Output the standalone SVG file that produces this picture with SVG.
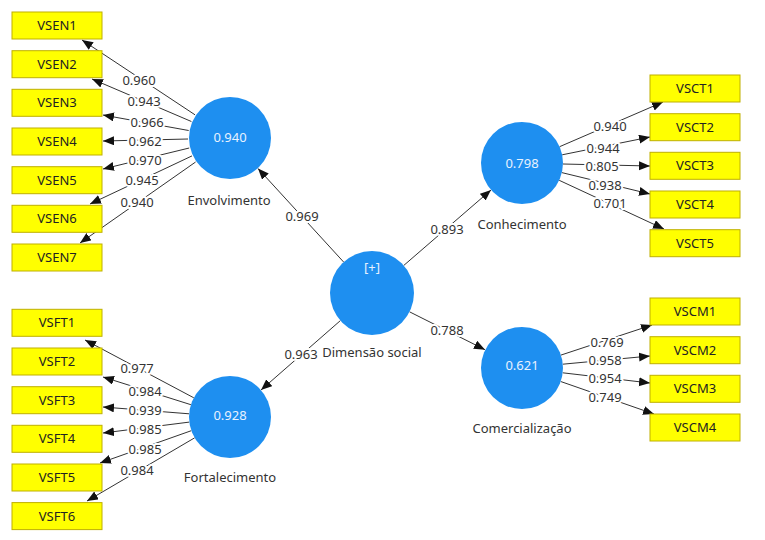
<svg xmlns="http://www.w3.org/2000/svg" width="765" height="540" viewBox="0 0 765 540">
<defs>
<marker id="ah" markerUnits="userSpaceOnUse" markerWidth="12" markerHeight="10" refX="11" refY="4.5" orient="auto">
<path d="M0,0 L11,4.5 L0,9 z" fill="#111"/>
</marker>
<style>
text{font-family:"Noto Sans","Liberation Sans",sans-serif;font-size:13px;text-anchor:middle}
.ind rect{fill:#ffff00;stroke:#bfb000;stroke-width:1}
.ind text{fill:#222}
.lv circle{fill:#1e8ff0}
.lv text.v{fill:#e8f2ff}
.lv text.n{fill:#333}
.c line{stroke:#333;stroke-width:1;marker-end:url(#ah)}
.c text{fill:#333;paint-order:stroke;stroke:#fff;stroke-width:4px;stroke-linejoin:round}
</style>
</defs>
<rect width="765" height="540" fill="#fff"/>

<g id="connectors" class="c">
<line x1="195" y1="114.8" x2="82" y2="40"/>
<line x1="191.4" y1="121.5" x2="92" y2="79"/>
<line x1="188.7" y1="130.5" x2="103" y2="115"/>
<line x1="188" y1="139" x2="103" y2="141"/>
<line x1="189.2" y1="148" x2="103" y2="169"/>
<line x1="192" y1="155.9" x2="90" y2="204"/>
<line x1="195.6" y1="162" x2="80" y2="243"/>

<line x1="559.6" y1="146.7" x2="663" y2="102"/>
<line x1="562.2" y1="154.8" x2="650" y2="137"/>
<line x1="563" y1="164" x2="650" y2="166"/>
<line x1="561.8" y1="172.6" x2="650" y2="194"/>
<line x1="559.2" y1="180.3" x2="664" y2="229"/>

<line x1="193.8" y1="397.8" x2="85" y2="340"/>
<line x1="190.9" y1="404.7" x2="103" y2="377"/>
<line x1="189.1" y1="413.8" x2="103" y2="407"/>
<line x1="189.3" y1="422.1" x2="103" y2="433"/>
<line x1="191.3" y1="430.7" x2="100" y2="463"/>
<line x1="194.7" y1="437.8" x2="87" y2="501"/>

<line x1="560.9" y1="355.1" x2="652" y2="325"/>
<line x1="562.8" y1="364.2" x2="650" y2="356"/>
<line x1="562.7" y1="372.8" x2="650" y2="383"/>
<line x1="560.7" y1="381.5" x2="654" y2="414"/>

<line x1="343.6" y1="262" x2="258" y2="168.5"/>
<line x1="403.7" y1="265.5" x2="491" y2="190"/>
<line x1="340.4" y1="320.6" x2="261" y2="390"/>
<line x1="409.5" y1="311.8" x2="485" y2="349.7"/>

<text x="139" y="84.5">0.960</text>
<text x="144" y="105.5">0.943</text>
<text x="147" y="126.5">0.966</text>
<text x="145" y="145.5">0.962</text>
<text x="145" y="164.5">0.970</text>
<text x="142" y="184.5">0.945</text>
<text x="137" y="206.5">0.940</text>

<text x="610" y="130.5">0.940</text>
<text x="603" y="152.5">0.944</text>
<text x="602" y="170.5">0.805</text>
<text x="605" y="189.5">0.938</text>
<text x="610" y="207.5">0.701</text>

<text x="137" y="372.5">0.977</text>
<text x="145" y="395.5">0.984</text>
<text x="145" y="414.5">0.939</text>
<text x="145" y="433.5">0.985</text>
<text x="145" y="453.5">0.985</text>
<text x="137" y="474.5">0.984</text>

<text x="607" y="346.5">0.769</text>
<text x="605" y="364.5">0.958</text>
<text x="605" y="383">0.954</text>
<text x="605" y="401.5">0.749</text>

<text x="302" y="221">0.969</text>
<text x="447" y="234">0.893</text>
<text x="301" y="359">0.963</text>
<text x="447" y="335">0.788</text>
</g>

<g id="Envolvimento" class="lv"><circle cx="230" cy="138" r="41"/><text class="v" x="230" y="142">0.940</text><text class="n" x="229" y="205">Envolvimento</text></g>
<g id="Conhecimento" class="lv"><circle cx="522" cy="163" r="41"/><text class="v" x="522" y="168">0.798</text><text class="n" x="522" y="229">Conhecimento</text></g>
<g id="DimensaoSocial" class="lv"><circle cx="372" cy="293" r="42"/><text class="v" x="372" y="272">[+]</text><text class="n" x="372" y="357">Dimensão social</text></g>
<g id="Fortalecimento" class="lv"><circle cx="230" cy="417" r="41"/><text class="v" x="230" y="420">0.928</text><text class="n" x="230" y="482">Fortalecimento</text></g>
<g id="Comercializacao" class="lv"><circle cx="522" cy="368" r="41"/><text class="v" x="522" y="370">0.621</text><text class="n" x="522" y="433">Comercialização</text></g>

<g id="VSEN1" class="ind"><rect x="12" y="12" width="90" height="27"/><text x="57" y="30">VSEN1</text></g>
<g id="VSEN2" class="ind"><rect x="12" y="50.7" width="90" height="27"/><text x="57" y="68.7">VSEN2</text></g>
<g id="VSEN3" class="ind"><rect x="12" y="89.3" width="90" height="27"/><text x="57" y="107.3">VSEN3</text></g>
<g id="VSEN4" class="ind"><rect x="12" y="128" width="90" height="27"/><text x="57" y="146">VSEN4</text></g>
<g id="VSEN5" class="ind"><rect x="12" y="166.7" width="90" height="27"/><text x="57" y="184.7">VSEN5</text></g>
<g id="VSEN6" class="ind"><rect x="12" y="205.3" width="90" height="27"/><text x="57" y="223.3">VSEN6</text></g>
<g id="VSEN7" class="ind"><rect x="12" y="244" width="90" height="27"/><text x="57" y="262">VSEN7</text></g>

<g id="VSCT1" class="ind"><rect x="650" y="75" width="90" height="27"/><text x="695" y="93">VSCT1</text></g>
<g id="VSCT2" class="ind"><rect x="650" y="113.7" width="90" height="27"/><text x="695" y="131.7">VSCT2</text></g>
<g id="VSCT3" class="ind"><rect x="650" y="152.3" width="90" height="27"/><text x="695" y="170.3">VSCT3</text></g>
<g id="VSCT4" class="ind"><rect x="650" y="191" width="90" height="27"/><text x="695" y="209">VSCT4</text></g>
<g id="VSCT5" class="ind"><rect x="650" y="229.7" width="90" height="27"/><text x="695" y="247.7">VSCT5</text></g>

<g id="VSFT1" class="ind"><rect x="12" y="309.3" width="90" height="27"/><text x="57" y="327.3">VSFT1</text></g>
<g id="VSFT2" class="ind"><rect x="12" y="348" width="90" height="27"/><text x="57" y="366">VSFT2</text></g>
<g id="VSFT3" class="ind"><rect x="12" y="386.7" width="90" height="27"/><text x="57" y="404.7">VSFT3</text></g>
<g id="VSFT4" class="ind"><rect x="12" y="425.3" width="90" height="27"/><text x="57" y="443.3">VSFT4</text></g>
<g id="VSFT5" class="ind"><rect x="12" y="464" width="90" height="27"/><text x="57" y="482">VSFT5</text></g>
<g id="VSFT6" class="ind"><rect x="12" y="502.6" width="90" height="27"/><text x="57" y="520.6">VSFT6</text></g>

<g id="VSCM1" class="ind"><rect x="650" y="298" width="90" height="27"/><text x="695" y="316">VSCM1</text></g>
<g id="VSCM2" class="ind"><rect x="650" y="336.7" width="90" height="27"/><text x="695" y="354.7">VSCM2</text></g>
<g id="VSCM3" class="ind"><rect x="650" y="375.3" width="90" height="27"/><text x="695" y="393.3">VSCM3</text></g>
<g id="VSCM4" class="ind"><rect x="650" y="414" width="90" height="27"/><text x="695" y="432">VSCM4</text></g>
</svg>
